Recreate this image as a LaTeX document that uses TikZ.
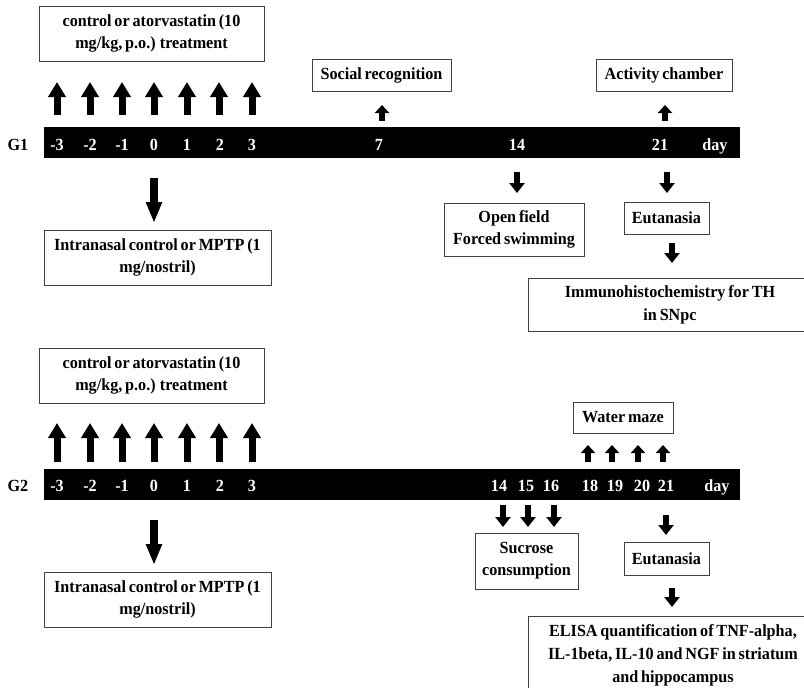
\documentclass[tikz,border=0pt]{standalone}
\usepackage{fontspec}
\setmainfont{Liberation Serif}
\newfontfamily\figfont[FakeStretch=0.95, WordSpace=0.7]{Liberation Serif}
\usetikzlibrary{arrows.meta}
\tikzset{
  box/.style={draw=black!75, line width=0.8pt, fill=white, align=center, inner sep=0pt,
    font=\figfont\bfseries\fontsize{17}{22}\selectfont},
  barbox/.style={fill=black, draw=none, inner sep=0pt, anchor=north west, minimum width=696pt, minimum height=31pt},
  daylbl/.style={text=white, inner sep=0pt, anchor=base, font=\figfont\bfseries\fontsize{17}{20}\selectfont},
  grplbl/.style={text=black, inner sep=0pt, anchor=base, font=\figfont\bfseries\fontsize{17}{20}\selectfont},
  bigarrow/.style={line width=7pt, -{Triangle[length=15pt,width=17pt]}},
  tallarrow/.style={line width=8pt, -{Triangle[length=21pt,width=15pt]}},
  smallarrow/.style={line width=6pt, -{Triangle[length=8pt,width=14pt]}},
  midarrow/.style={line width=6pt, -{Triangle[length=10pt,width=15pt]}},
}
\begin{document}
\begin{tikzpicture}[x=1pt,y=-1pt]
\clip (0,0) rectangle (804,688);
\fill[white] (0,0) rectangle (804,688);

% ================= G1 =================
\node[barbox] (barA) at (44,127) {};
\node[grplbl] (gA) at (18,150) {G1};
\foreach \x/\t [count=\i] in {57/-3,90/-2,122/-1,154/0,187/1,220/2,252/3,379/7,517/14,660/21,715/day}
  \node[daylbl] (dA\i) at (\x,150) {\t};

\node[box, minimum width=225pt, minimum height=55pt] (treatA) at (151.5,33.5)
  {control or atorvastatin (10\\ mg/kg, p.o.) treatment};
\foreach \x [count=\i] in {57,90,122,154,187,219,252} {
  \coordinate (uaB\i) at (\x,115);
  \coordinate (uaT\i) at (\x,82);
  \draw[bigarrow] (uaB\i) -- (uaT\i);
}
\node[box, minimum width=139pt, minimum height=32pt] (socialA) at (381.5,75) {Social recognition};
\node[box, minimum width=136pt, minimum height=32pt] (activityA) at (664,75) {Activity chamber};
\coordinate (sB) at (382,121); \coordinate (sT) at (382,105);
\draw[smallarrow] (sB) -- (sT);
\coordinate (acB) at (665,121); \coordinate (acT) at (665,105);
\draw[smallarrow] (acB) -- (acT);

\coordinate (d14T) at (517,172); \coordinate (d14B) at (517,193);
\draw[midarrow] (d14T) -- (d14B);
\coordinate (d21T) at (667,172); \coordinate (d21B) at (667,193);
\draw[midarrow] (d21T) -- (d21B);

\node[box, minimum width=140pt, minimum height=53pt] (openA) at (514,229.5) {Open field\\Forced swimming};
\node[box, minimum width=85pt, minimum height=32pt] (eutA) at (666.5,218) {Eutanasia};
\coordinate (eAT) at (672,243); \coordinate (eAB) at (672,263);
\draw[midarrow] (eAT) -- (eAB);
\node[box, minimum width=284pt, minimum height=53pt, font=\figfont\bfseries\fontsize{17}{23}\selectfont] (immA) at (670,304.5)
  {Immunohistochemistry for TH\\in SNpc};

\coordinate (mAT) at (154,178); \coordinate (mAB) at (154,223);
\draw[tallarrow] (mAT) -- (mAB);
\node[box, minimum width=227pt, minimum height=55pt] (intraA) at (157.5,257.5)
  {Intranasal control or MPTP (1\\mg/nostril)};

% ================= G2 =================
\node[barbox] (barB) at (44,469) {};
\node[grplbl] (gB) at (18,491) {G2};
\foreach \x/\t [count=\i] in {57/-3,90/-2,122/-1,154/0,187/1,220/2,252/3,499/14,526/15,551/16,590/18,615/19,642/20,666/21,717/day}
  \node[daylbl] (dB\i) at (\x,491) {\t};

\node[box, minimum width=225pt, minimum height=55pt] (treatB) at (151.5,375.5)
  {control or atorvastatin (10\\ mg/kg, p.o.) treatment};
\foreach \x [count=\i] in {57,90,122,154,187,219,252} {
  \coordinate (ubB\i) at (\x,462);
  \coordinate (ubT\i) at (\x,423);
  \draw[bigarrow] (ubB\i) -- (ubT\i);
}
\node[box, minimum width=100pt, minimum height=31pt] (waterB) at (623,417.5) {Water maze};
\foreach \x [count=\i] in {588,612,638,663} {
  \coordinate (wB\i) at (\x,462);
  \coordinate (wT\i) at (\x,445);
  \draw[smallarrow] (wB\i) -- (wT\i);
}
\foreach \x [count=\i] in {503,528,554} {
  \coordinate (scT\i) at (\x,505);
  \coordinate (scB\i) at (\x,527);
  \draw[midarrow] (scT\i) -- (scB\i);
}
\node[box, minimum width=103pt, minimum height=56pt] (sucB) at (526.5,561) {Sucrose\\consumption};
\coordinate (e21T) at (666,515); \coordinate (e21B) at (666,535);
\draw[midarrow] (e21T) -- (e21B);
\node[box, minimum width=85pt, minimum height=33pt] (eutB) at (666.5,558.5) {Eutanasia};
\coordinate (eBT) at (672,588); \coordinate (eBB) at (672,607);
\draw[midarrow] (eBT) -- (eBB);
\node[box, minimum width=290pt, minimum height=78pt, font=\figfont\bfseries\fontsize{17}{23}\selectfont] (elisaB) at (673,655)
  {ELISA quantification of TNF-alpha,\\IL-1beta, IL-10 and NGF in striatum\\and hippocampus};

\coordinate (mBT) at (154,520); \coordinate (mBB) at (154,565);
\draw[tallarrow] (mBT) -- (mBB);
\node[box, minimum width=227pt, minimum height=55pt] (intraB) at (157.5,599.5)
  {Intranasal control or MPTP (1\\mg/nostril)};
\end{tikzpicture}
\end{document}
